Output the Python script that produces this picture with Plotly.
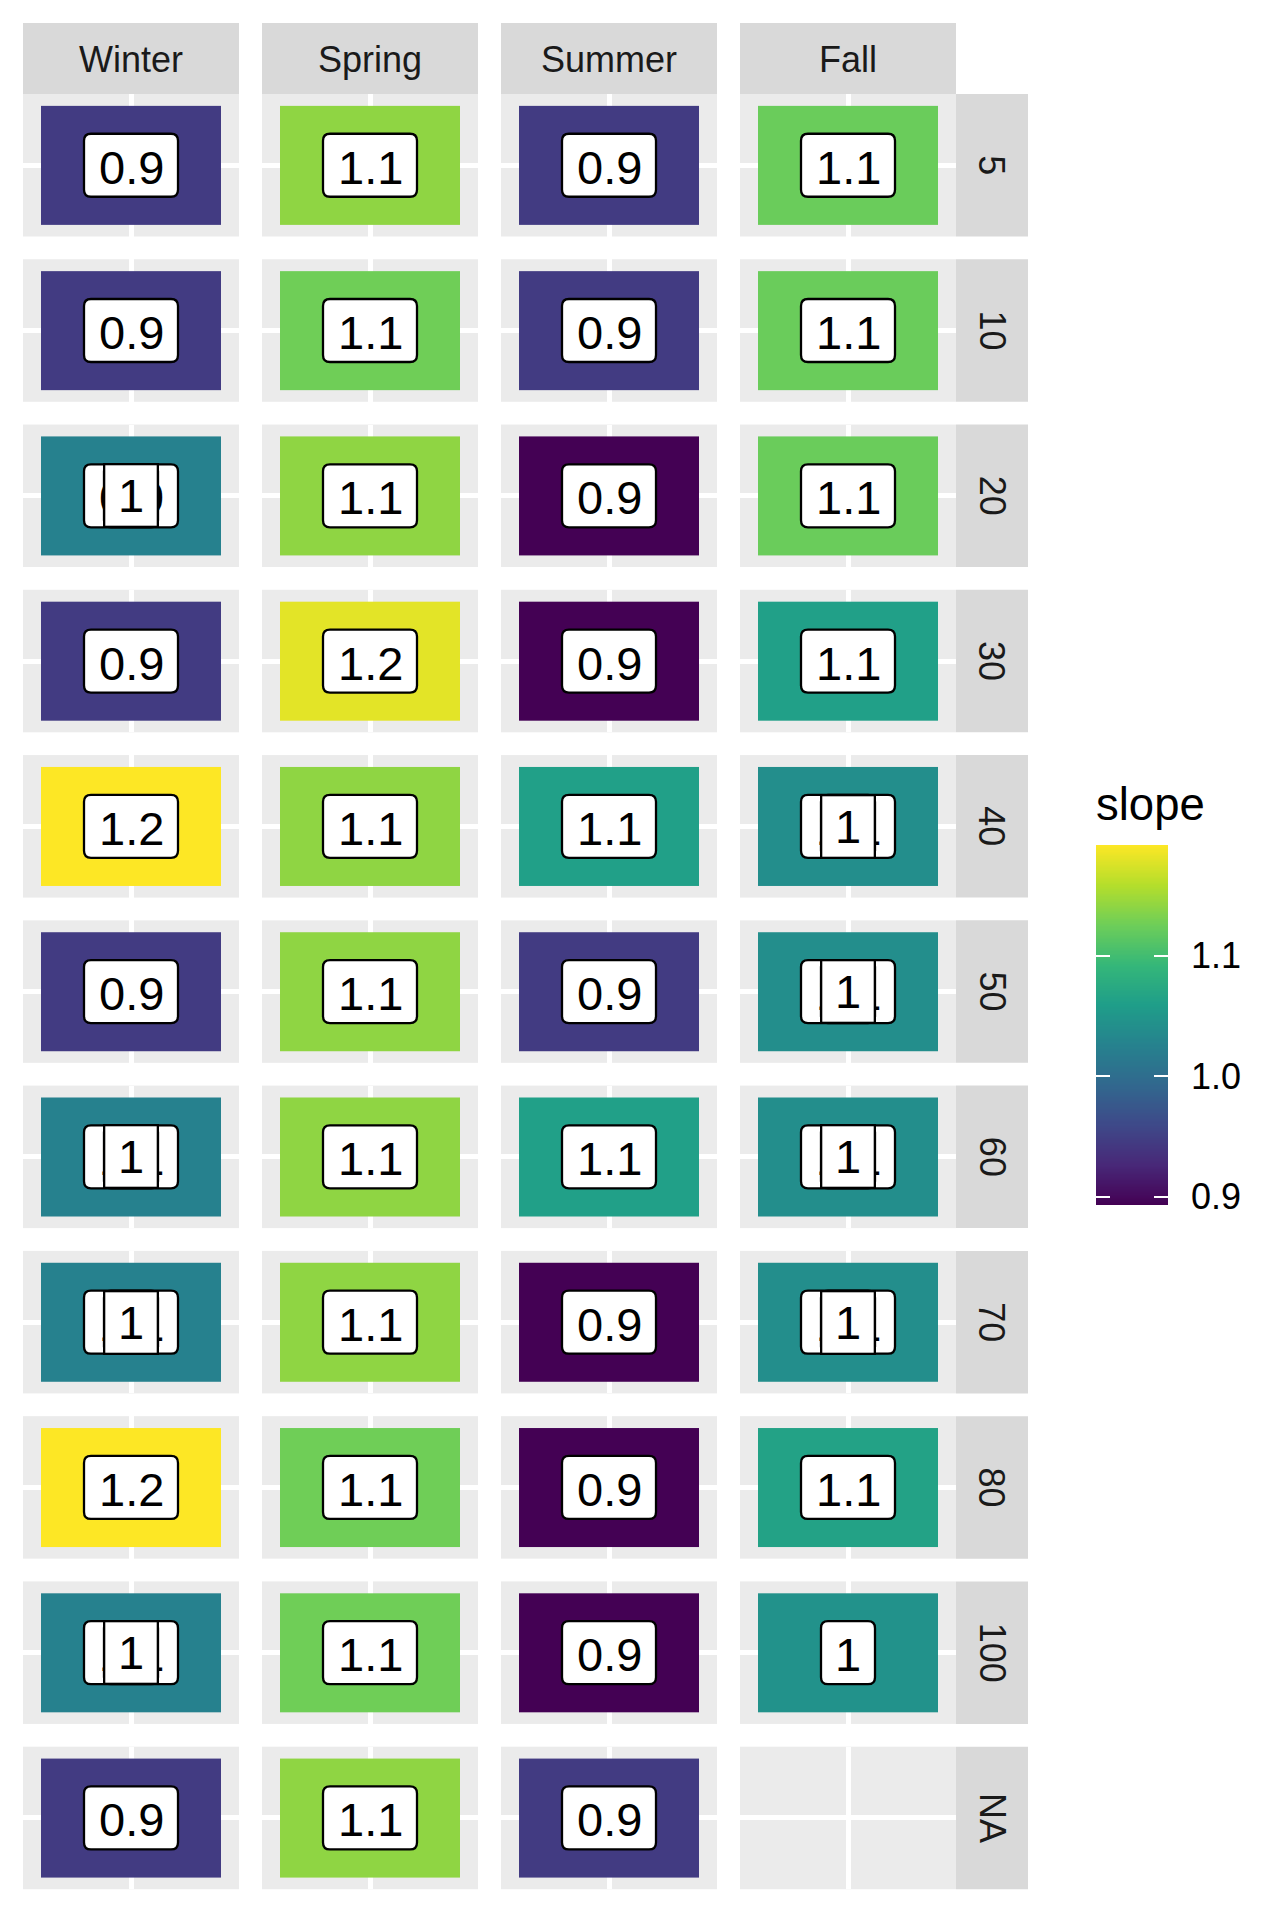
import numpy as np
import plotly.graph_objects as go

# ---------------- data ----------------
seasons = ["Winter", "Spring", "Summer", "Fall"]
depths = ["5", "10", "20", "30", "40", "50", "60", "70", "80", "100", "NA"]

# slope shown by the top tile / top label of each cell
winter = [0.945, 0.945, 1.025, 0.945, 1.192, 0.945, 1.025, 1.025, 1.192, 1.025, 0.945]
spring = [1.141, 1.126, 1.141, 1.180, 1.141, 1.141, 1.141, 1.141, 1.126, 1.126, 1.141]
summer = [0.945, 0.945, 0.893, 0.893, 1.062, 0.945, 1.062, 0.893, 0.893, 0.893, 0.945]
fall = [1.123, 1.123, 1.123, 1.062, 1.040, 1.040, 1.040, 1.040, 1.065, 1.045, None]

# a second (earlier drawn) record in some cells, hidden below the top label
winter_under = [None, None, 0.92, None, None, None, 1.12, 1.12, None, 1.12, None]
spring_under = [None] * 11
summer_under = [None] * 11
fall_under = [None, None, None, None, 1.12, 1.12, 1.12, 1.12, None, None, None]

slope_min, slope_max = 0.893, 1.192
legend_ticks = [0.9, 1.0, 1.1]
legend_ticktext = ["0.9", "1.0", "1.1"]

values = [winter, spring, summer, fall]
unders = [winter_under, spring_under, summer_under, fall_under]

# ---------------- layout constants (pixels) ----------------
W, H = 1287, 1912
col_left0, col_pitch, pw = 23, 239, 216
row_top0, row_pitch, ph = 94, 165.27, 142.5
strip_h, strip_w = 71, 72
FONT = "Liberation Sans, Arial, Helvetica, sans-serif"
label_fs = 47
strip_fs = 36
title_fs = 45.5
LW = 2.3          # label border width
HALF_H = 31.5     # label box half height (border centre line)

fig = go.Figure()
shapes = []
annotations = []

def fmt(v):
    return f"{round(v, 1):g}"

def rounded_box(half_w, half_h, r):
    return (f"M {-half_w + r},{-half_h} L {half_w - r},{-half_h} "
            f"Q {half_w},{-half_h} {half_w},{-half_h + r} "
            f"L {half_w},{half_h - r} Q {half_w},{half_h} {half_w - r},{half_h} "
            f"L {-half_w + r},{half_h} Q {-half_w},{half_h} {-half_w},{half_h - r} "
            f"L {-half_w},{-half_h + r} Q {-half_w},{-half_h} {-half_w + r},{-half_h} Z")

def box_half_width(text):
    return 27 if len(text) == 1 else 47

for r, dep in enumerate(depths):
    for c, season in enumerate(seasons):
        n = r * 4 + c + 1
        xa = "x" if n == 1 else f"x{n}"
        ya = "y" if n == 1 else f"y{n}"
        xl = "xaxis" if n == 1 else f"xaxis{n}"
        yl = "yaxis" if n == 1 else f"yaxis{n}"
        left = col_left0 + c * col_pitch
        top = row_top0 + r * row_pitch
        fig.layout[xl] = dict(domain=[left / W, (left + pw) / W], range=[0.4, 1.6],
                              tickvals=[1], showticklabels=False, ticks="",
                              showgrid=True, gridcolor="white", gridwidth=4.5,
                              zeroline=False, showline=False, anchor=ya, fixedrange=True)
        fig.layout[yl] = dict(domain=[1 - (top + ph) / H, 1 - top / H], range=[0.4, 1.6],
                              tickvals=[1], showticklabels=False, ticks="",
                              showgrid=True, gridcolor="white", gridwidth=4.5,
                              zeroline=False, showline=False, anchor=xa, fixedrange=True)
        v = values[c][r]
        u = unders[c][r]
        if v is not None:
            fig.add_trace(go.Heatmap(x=[1], y=[1], z=[[v]], xaxis=xa, yaxis=ya,
                                     colorscale="Viridis", zmin=slope_min, zmax=slope_max,
                                     showscale=False, hoverinfo="skip"))
            labels = ([u] if u is not None else []) + [v]
            for i, lv in enumerate(labels):
                t = fmt(lv)
                hw = box_half_width(t)
                shapes.append(dict(type="path", xref=xa, yref=ya, xsizemode="pixel",
                                   ysizemode="pixel", xanchor=1, yanchor=1,
                                   path=rounded_box(hw, HALF_H, 7), fillcolor="white",
                                   line=dict(color="black", width=LW), layer="above"))
                ann = dict(x=1, y=1, xref=xa, yref=ya, text=t, showarrow=False,
                           font=dict(family=FONT, size=label_fs, color="black"),
                           xanchor="center", yanchor="middle", yshift=-2)
                if i > 0:
                    # label drawn on top of an earlier one: own opaque bordered box
                    ann.update(bgcolor="white", bordercolor="black", borderwidth=LW,
                               borderpad=0, width=2 * hw - LW, height=2 * HALF_H - LW,
                               yshift=0)
                annotations.append(ann)
        else:
            # empty panel (no records): keep the panel drawn
            fig.add_trace(go.Scatter(x=[], y=[], xaxis=xa, yaxis=ya, mode="markers",
                                     hoverinfo="skip"))
        # strips
        if r == 0:
            shapes.append(dict(type="rect", xref=f"{xa} domain", yref=f"{ya} domain",
                               x0=0, x1=1, y0=1, y1=1 + strip_h / ph,
                               fillcolor="#d9d9d9", line=dict(width=0), layer="below"))
            annotations.append(dict(xref=f"{xa} domain", yref=f"{ya} domain", x=0.5,
                                    y=1 + strip_h / 2 / ph, text=season, showarrow=False,
                                    font=dict(family=FONT, size=strip_fs, color="#1a1a1a"),
                                    xanchor="center", yanchor="middle", yshift=-1))
        if c == 3:
            shapes.append(dict(type="rect", xref=f"{xa} domain", yref=f"{ya} domain",
                               x0=1, x1=1 + strip_w / pw, y0=0, y1=1,
                               fillcolor="#d9d9d9", line=dict(width=0), layer="below"))
            annotations.append(dict(xref=f"{xa} domain", yref=f"{ya} domain",
                                    x=1 + strip_w / 2 / pw, y=0.5, text=dep, showarrow=False,
                                    textangle=90,
                                    font=dict(family=FONT, size=strip_fs, color="#1a1a1a"),
                                    xanchor="center", yanchor="middle"))

# ---------------- colour bar legend ----------------
bar_left, bar_right, bar_top, bar_bottom = 1096, 1168, 845, 1205
ramp = np.linspace(slope_min, slope_max, 300)
fig.add_trace(go.Heatmap(x=[0], y=ramp, z=[[z] for z in ramp], xaxis="x45", yaxis="y45",
                         colorscale="Viridis", zmin=slope_min, zmax=slope_max,
                         showscale=False, hoverinfo="skip"))
fig.layout["xaxis45"] = dict(domain=[bar_left / W, bar_right / W], range=[-0.5, 0.5],
                             showticklabels=False, ticks="", showgrid=False, zeroline=False,
                             showline=False, anchor="y45", fixedrange=True)
fig.layout["yaxis45"] = dict(domain=[1 - bar_bottom / H, 1 - bar_top / H],
                             range=[slope_min, slope_max], side="right",
                             tickvals=legend_ticks, ticktext=legend_ticktext,
                             ticks="inside", ticklen=14, tickwidth=2, tickcolor="white",
                             mirror="allticks", showline=False, showgrid=False, zeroline=False,
                             ticklabelstandoff=22,
                             tickfont=dict(family=FONT, size=strip_fs, color="black"),
                             anchor="x45", fixedrange=True)
annotations.append(dict(xref="paper", yref="paper", x=bar_left / W - 2 / W,
                        y=1 - 805 / H, text="slope", showarrow=False,
                        font=dict(family=FONT, size=title_fs, color="black"),
                        xanchor="left", yanchor="middle"))

fig.update_layout(width=W, height=H,
                  margin=dict(l=0, r=0, t=0, b=0, pad=0, autoexpand=False),
                  paper_bgcolor="white", plot_bgcolor="#ebebeb",
                  shapes=shapes, annotations=annotations, hovermode=False,
                  showlegend=False)

fig.write_html("out.html", config={"displayModeBar": False})
